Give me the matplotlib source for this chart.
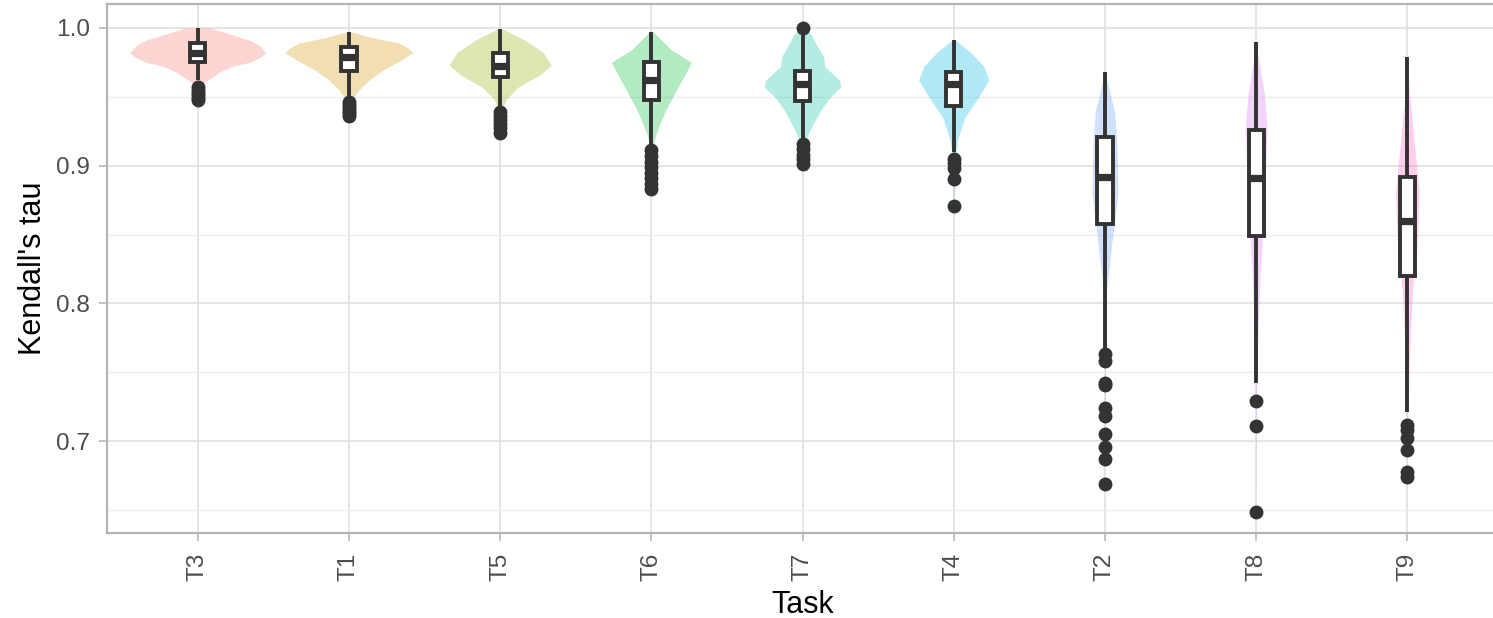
import matplotlib
matplotlib.use('Agg')
import matplotlib.pyplot as plt

plt.rcParams['font.family'] = ['Liberation Sans', 'DejaVu Sans']

tasks = ['T3', 'T1', 'T5', 'T6', 'T7', 'T4', 'T2', 'T8', 'T9']
colors = ['#F8766D', '#D39200', '#93AA00', '#00BA38', '#00C19F',
          '#00B9E3', '#619CFF', '#DB72FB', '#FF61C3']

# box summaries per task
whisker_hi = [1.000, 0.997, 0.999, 0.997, 0.996, 0.991, 0.968, 0.990, 0.979]
q3 = [0.989, 0.986, 0.982, 0.975, 0.969, 0.968, 0.921, 0.926, 0.892]
median = [0.982, 0.979, 0.972, 0.962, 0.959, 0.959, 0.892, 0.891, 0.860]
q1 = [0.975, 0.969, 0.964, 0.948, 0.947, 0.943, 0.858, 0.849, 0.820]
whisker_lo = [0.962, 0.950, 0.943, 0.916, 0.920, 0.910, 0.766, 0.742, 0.721]

outliers = [
    [0.957, 0.955, 0.953, 0.951, 0.949, 0.948],
    [0.946, 0.944, 0.942, 0.940, 0.938, 0.936],
    [0.939, 0.936, 0.933, 0.930, 0.927, 0.924],
    [0.911, 0.907, 0.903, 0.899, 0.895, 0.891, 0.887, 0.883],
    [1.000, 0.916, 0.912, 0.908, 0.905, 0.901],
    [0.905, 0.902, 0.898, 0.890, 0.871],
    [0.763, 0.758, 0.742, 0.741, 0.724, 0.718, 0.705, 0.696, 0.687, 0.669],
    [0.729, 0.711, 0.649],
    [0.712, 0.708, 0.702, 0.694, 0.678, 0.674],
]

# violin outlines: tau levels (top to bottom) and half widths
violin_tau = [
    [1.000, 0.996, 0.991, 0.987, 0.982, 0.979, 0.975, 0.972, 0.968, 0.964, 0.961, 0.958, 0.951, 0.946],
    [0.997, 0.993, 0.989, 0.985, 0.982, 0.977, 0.969, 0.962, 0.955, 0.948, 0.935],
    [0.999, 0.991, 0.982, 0.973, 0.966, 0.957, 0.948, 0.943, 0.924],
    [0.997, 0.984, 0.975, 0.964, 0.955, 0.940, 0.924, 0.916, 0.883],
    [1.000, 0.996, 0.989, 0.979, 0.972, 0.962, 0.957, 0.950, 0.940, 0.928, 0.920, 0.901],
    [0.991, 0.982, 0.972, 0.962, 0.950, 0.935, 0.919, 0.909, 0.871],
    [0.968, 0.940, 0.916, 0.880, 0.844, 0.812, 0.808, 0.766, 0.669],
    [0.990, 0.977, 0.953, 0.928, 0.892, 0.856, 0.819, 0.783, 0.745, 0.649],
    [0.977, 0.953, 0.916, 0.880, 0.844, 0.808, 0.771, 0.723, 0.674],
]
violin_half = [
    [0.079, 0.199, 0.344, 0.410, 0.450, 0.417, 0.344, 0.225, 0.146, 0.093, 0.046, 0.013, 0.007, 0.0],
    [0.020, 0.152, 0.331, 0.397, 0.424, 0.351, 0.219, 0.132, 0.066, 0.020, 0.0],
    [0.020, 0.166, 0.285, 0.338, 0.265, 0.119, 0.040, 0.020, 0.0],
    [0.013, 0.132, 0.265, 0.212, 0.166, 0.093, 0.033, 0.013, 0.0],
    [0.0, 0.053, 0.086, 0.139, 0.146, 0.245, 0.252, 0.185, 0.119, 0.060, 0.026, 0.0],
    [0.013, 0.113, 0.199, 0.232, 0.166, 0.073, 0.026, 0.013, 0.0],
    [0.0, 0.063, 0.079, 0.086, 0.046, 0.013, 0.007, 0.002, 0.0],
    [0.0, 0.017, 0.053, 0.073, 0.060, 0.046, 0.026, 0.013, 0.003, 0.0],
    [0.0, 0.013, 0.046, 0.079, 0.066, 0.033, 0.017, 0.003, 0.0],
]

fig = plt.figure(figsize=(14.93, 6.18), dpi=100)
ax = fig.add_axes([0.0717, 0.1375, 0.9317, 0.856])

positions = list(range(1, len(tasks) + 1))

for pos, tau, half, col in zip(positions, violin_tau, violin_half, colors):
    left = [pos - h for h in half]
    right = [pos + h for h in half]
    ax.fill_betweenx(tau, left, right, color=col, alpha=0.3, lw=0, zorder=2)

stats = []
for i in range(len(tasks)):
    stats.append(dict(med=median[i], q1=q1[i], q3=q3[i],
                      whislo=whisker_lo[i], whishi=whisker_hi[i],
                      fliers=outliers[i]))

ax.bxp(stats, positions=positions, widths=0.1, patch_artist=True, showcaps=False,
       boxprops=dict(facecolor='white', edgecolor='#333333', linewidth=2.8),
       whiskerprops=dict(color='#333333', linewidth=2.8, solid_capstyle='butt'),
       medianprops=dict(color='#333333', linewidth=5.2, solid_capstyle='butt'),
       flierprops=dict(marker='o', markersize=10, markerfacecolor='#333333',
                       markeredgecolor='none'),
       zorder=3)

ax.set_xlim(0.4, 9.6)
ax.set_ylim(0.6334, 1.0173)
ax.set_xticks(positions)
ax.set_xticklabels(tasks, rotation=90)
ax.set_yticks([0.7, 0.8, 0.9, 1.0])
ax.set_yticklabels(['0.7', '0.8', '0.9', '1.0'])
ax.set_yticks([0.65, 0.75, 0.85, 0.95], minor=True)

ax.set_axisbelow(True)
ax.grid(True, which='major', color='#dedede', lw=1.1)
ax.grid(True, which='minor', axis='y', color='#eeeeee', lw=1.0)

for sp in ax.spines.values():
    sp.set_color('#b3b3b3')
    sp.set_linewidth(1.6)

ax.tick_params(axis='both', which='major', color='#b3b3b3', labelcolor='#4d4d4d',
               length=5.8, width=1.1, labelsize=17.6)
ax.tick_params(axis='x', pad=8.5)
ax.tick_params(axis='y', pad=6.5)
ax.tick_params(axis='y', which='minor', length=0)

ax.set_xlabel('Task', fontsize=22, labelpad=6)
ax.set_ylabel("Kendall's tau", fontsize=22, labelpad=6)

fig.savefig('out.png', dpi=100)
